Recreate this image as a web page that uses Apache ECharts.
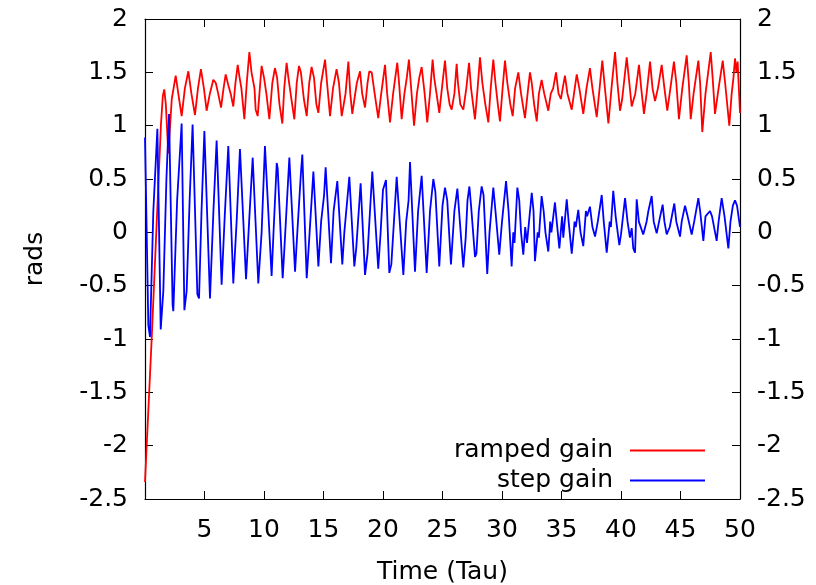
<!DOCTYPE html>
<html>
<head>
<meta charset="utf-8">
<script src="https://cdn.jsdelivr.net/npm/echarts@6/dist/echarts.min.js"></script>
<style>
  html, body { margin: 0; padding: 0; background: #fff; }
  #chart { width: 816px; height: 585px; }
</style>
</head>
<body>
<div id="chart"></div>
<script>
// Angle response (rads) over time (Tau) for two gain schedules.
var rampTime = [
  0, 0.56, 1.34, 1.5, 1.62, 1.75, 1.96, 2.25, 2.58, 2.8, 3.08, 3.35, 3.64, 3.9, 4.2, 4.45, 4.7, 4.95,
  5.18, 5.45, 5.74, 5.95, 6.15, 6.39, 6.6, 6.78, 7.0, 7.2, 7.42, 7.6, 7.79, 7.95, 8.1, 8.35, 8.55, 8.77,
  8.95, 9.2, 9.3, 9.47, 9.65, 9.8, 10.0, 10.2, 10.45, 10.7, 10.92, 11.1, 11.3, 11.54, 11.7, 11.9, 12.05,
  12.3, 12.55, 12.75, 12.94, 13.1, 13.35, 13.59, 13.8, 14.0, 14.2, 14.4, 14.57, 14.8, 15.13, 15.3, 15.55,
  15.8, 16.1, 16.3, 16.53, 16.7, 16.85, 17.09, 17.25, 17.42, 17.6, 17.8, 18.07, 18.25, 18.49, 18.7, 18.85,
  19.05, 19.3, 19.6, 19.85, 20.17, 20.35, 20.59, 20.85, 21.2, 21.35, 21.57, 21.8, 22.0, 22.18, 22.4, 22.61,
  22.85, 23.05, 23.25, 23.5, 23.72, 23.95, 24.17, 24.3, 24.5, 24.73, 24.95, 25.21, 25.4, 25.6, 25.77, 26.0,
  26.19, 26.3, 26.5, 26.75, 27.0, 27.23, 27.4, 27.55, 27.73, 27.95, 28.15, 28.35, 28.6, 28.85, 29.05, 29.27,
  29.45, 29.65, 29.83, 30.05, 30.25, 30.45, 30.7, 30.9, 31.1, 31.37, 31.6, 31.93, 32.15, 32.35, 32.5, 32.7,
  32.92, 33.1, 33.33, 33.55, 33.89, 34.1, 34.3, 34.54, 34.75, 34.95, 35.1, 35.29, 35.5, 35.86, 36.05, 36.28,
  36.5, 36.83, 37.1, 37.39, 37.6, 37.96, 38.2, 38.43, 38.65, 38.94, 39.2, 39.5, 39.7, 39.92, 40.1, 40.48,
  40.7, 40.9, 41.2, 41.51, 41.7, 41.93, 42.15, 42.44, 42.65, 42.86, 43.1, 43.42, 43.65, 43.89, 44.15, 44.45,
  44.65, 44.87, 45.15, 45.52, 45.7, 45.86, 46.1, 46.5, 46.65, 46.83, 47.1, 47.54, 47.7, 47.9, 48.2, 48.55,
  48.75, 49.1, 49.3, 49.45, 49.58, 49.7, 49.8, 50.0
];
var rampAngle = [
  -2.34, -1.0, 1.01, 1.28, 1.34, 1.2, 0.74, 1.25, 1.47, 1.3, 1.09, 1.35, 1.51, 1.3, 1.1, 1.35, 1.53, 1.35,
  1.14, 1.3, 1.43, 1.4, 1.3, 1.17, 1.35, 1.48, 1.38, 1.3, 1.18, 1.4, 1.57, 1.45, 1.35, 1.06, 1.4, 1.69,
  1.5, 1.35, 1.15, 1.09, 1.35, 1.56, 1.45, 1.3, 1.06, 1.4, 1.54, 1.45, 1.2, 1.02, 1.35, 1.59, 1.45,
  1.25, 1.06, 1.4, 1.56, 1.5, 1.25, 1.09, 1.4, 1.55, 1.45, 1.2, 1.12, 1.4, 1.62, 1.4, 1.09,
  1.35, 1.53, 1.4, 1.09, 1.2, 1.3, 1.6, 1.3, 1.11, 1.25, 1.4, 1.51, 1.3, 1.17, 1.4, 1.51,
  1.5, 1.3, 1.07, 1.3, 1.57, 1.3, 1.03, 1.3, 1.59, 1.4, 1.06, 1.3, 1.45, 1.62, 1.3, 1.0,
  1.3, 1.45, 1.55, 1.3, 1.03, 1.3, 1.62, 1.45, 1.3, 1.12, 1.35, 1.61, 1.35, 1.2, 1.15, 1.3,
  1.58, 1.4, 1.2, 1.15, 1.35, 1.59, 1.35, 1.35, 1.06, 1.35, 1.64, 1.4, 1.2, 1.03, 1.35, 1.62,
  1.4, 1.2, 1.04, 1.35, 1.61, 1.4, 1.2, 1.09, 1.35, 1.5, 1.3, 1.07, 1.3, 1.5, 1.4, 1.2,
  1.04, 1.3, 1.43, 1.3, 1.14, 1.3, 1.35, 1.5, 1.3, 1.25, 1.35, 1.47, 1.3, 1.15, 1.3, 1.48,
  1.35, 1.11, 1.35, 1.54, 1.35, 1.08, 1.35, 1.61, 1.35, 1.02, 1.35, 1.69, 1.4, 1.14, 1.25, 1.64,
  1.4, 1.18, 1.3, 1.57, 1.35, 1.11, 1.3, 1.6, 1.35, 1.23, 1.35, 1.57, 1.35, 1.14, 1.35, 1.6,
  1.4, 1.06, 1.35, 1.66, 1.4, 1.06, 1.3, 1.61, 1.4, 0.94, 1.3, 1.69, 1.45, 1.11, 1.35, 1.61,
  1.4, 1.0, 1.3, 1.45, 1.63, 1.5, 1.6, 1.12
];

var stepTime = [
  0, 0.28, 0.42, 0.7, 1.04, 1.32, 1.54, 1.8, 2.02, 2.32, 2.38, 2.7, 3.08, 3.31, 3.5, 3.75, 4.0, 4.4, 4.54,
  4.75, 4.99, 5.46, 5.75, 6.02, 6.44, 6.7, 7.0, 7.42, 7.7, 7.98, 8.49, 8.75, 9.05, 9.52, 9.8, 10.08,
  10.64, 10.8, 11.07, 11.15, 11.57, 11.7, 11.78, 12.13, 12.61, 12.8, 13.1, 13.22, 13.59, 13.75, 13.85,
  14.15, 14.57, 14.8, 15.05, 15.18, 15.63, 15.85, 16.16, 16.58, 16.75, 17.17, 17.59, 17.75, 17.85, 18.12,
  18.49, 18.7, 19.1, 19.6, 19.8, 20.0, 20.25, 20.53, 20.7, 20.85, 21.15, 21.71, 21.95, 22.15, 22.27,
  22.69, 22.95, 23.25, 23.67, 23.95, 24.23, 24.4, 24.73, 25.0, 25.21, 25.4, 25.71, 26.0, 26.25, 26.75,
  26.95, 27.1, 27.26, 27.4, 27.73, 27.85, 28.05, 28.29, 28.45, 28.76, 28.95, 29.27, 29.45, 29.77, 30.0,
  30.34, 30.55, 30.81, 30.95, 31.05, 31.29, 31.45, 31.6, 31.79, 31.95, 32.1, 32.5, 32.65, 32.77, 33.0,
  33.1, 33.33, 33.5, 33.65, 33.89, 34.05, 34.15, 34.45, 34.6, 34.82, 35.05, 35.15, 35.44, 35.6, 35.86,
  36.1, 36.2, 36.41, 36.6, 36.83, 37.05, 37.15, 37.39, 37.6, 37.82, 38.05, 38.38, 38.55, 38.8, 39.05,
  39.15, 39.35, 39.55, 39.86, 40.0, 40.34, 40.55, 40.75, 40.9, 41.03, 41.18, 41.32, 41.5, 41.87, 42.15,
  42.3, 42.58, 42.75, 43.0, 43.2, 43.5, 43.65, 43.84, 44.1, 44.48, 44.65, 44.96, 45.1, 45.38, 45.6,
  45.94, 46.15, 46.5, 46.65, 46.92, 47.1, 47.48, 47.65, 48.04, 48.2, 48.46, 48.7, 49.02, 49.2, 49.4,
  49.58, 49.75, 50.0
];
var stepAngle = [
  0.89, -0.87, -0.98, 0.2, 0.97, -0.91, -0.55, 0.5, 1.11, -0.68, -0.74, 0.3, 1.02, -0.73, -0.55, 0.3, 1.01, -0.58, -0.62,
  0.2, 0.95, -0.62, 0.2, 0.86, -0.49, 0.15, 0.81, -0.48, 0.1, 0.78, -0.44, 0.1, 0.7, -0.48, 0.0, 0.81,
  -0.41, 0.0, 0.65, 0.6, -0.43, -0.18, -0.18, 0.7, -0.37, 0.0, 0.55, 0.73, -0.43, -0.15, -0.15,
  0.57, -0.32, 0.1, 0.35, 0.61, -0.29, 0.2, 0.48, -0.3, 0.0, 0.52, -0.32, -0.15, -0.15, 0.46,
  -0.4, -0.2, 0.57, -0.34, 0.0, 0.4, 0.49, -0.38, -0.3, -0.3, 0.52, -0.4, 0.1, 0.3, 0.66,
  -0.37, 0.2, 0.53, -0.38, 0.2, 0.5, 0.38, -0.32, 0.25, 0.42, 0.3, -0.3, 0.2, 0.41, -0.33,
  -0.05, 0.3, 0.43, 0.25, -0.23, -0.2, 0.2, 0.43, 0.35, -0.39, 0.0, 0.42, 0.2, -0.21, 0.1,
  0.48, 0.2, -0.32, 0.0, -0.1, 0.42, 0.3, 0.0, -0.21, 0.05, -0.1, 0.37, 0.2, -0.27, 0.0,
  -0.05, 0.34, 0.2, 0.0, -0.18, 0.1, 0.0, 0.28, 0.1, -0.15, 0.15, -0.05, 0.31, 0.1, -0.2,
  0.1, 0.05, 0.21, 0.0, -0.13, 0.2, 0.15, 0.24, 0.05, -0.04, 0.1, 0.35, 0.1, -0.19, 0.1,
  0.05, 0.39, 0.15, -0.12, -0.02, 0.32, 0.1, -0.05, 0.04, -0.15, -0.19, 0.31, 0.1, -0.02, 0.1,
  0.2, 0.34, 0.1, -0.01, 0.1, 0.26, 0.1, -0.02, 0.05, 0.27, 0.1, -0.04, 0.1, 0.25, 0.15,
  -0.02, 0.1, 0.32, 0.2, -0.08, 0.15, 0.2, 0.15, -0.08, 0.1, 0.32, 0.15, -0.15, 0.1, 0.25,
  0.3, 0.25, 0.05
];

var seriesNames = ['ramped gain', 'step gain'];
var seriesColors = ['#ff0000', '#0000ff'];

function pairs(t, v) {
  var out = [];
  for (var i = 0; i < t.length; i++) out.push([t[i], v[i]]);
  return out;
}

var FONT = '"DejaVu Sans", "Liberation Sans", sans-serif';
var FONT_SIZE = 25;
var chart = echarts.init(document.getElementById('chart'), null, { renderer: 'canvas' });

var tickStyle = { show: true, inside: true, length: 8, lineStyle: { color: '#000', width: 1 } };
var lineStyleAxis = { show: true, onZero: false, lineStyle: { color: '#000', width: 1.2 } };
var labelStyle = { color: '#000', fontSize: FONT_SIZE, fontFamily: FONT };

chart.setOption({
  animation: false,
  backgroundColor: '#fff',
  grid: { left: 145, right: 76, top: 19, bottom: 86, containLabel: false, outerBoundsMode: 'none' },
  legend: {
    data: seriesNames,
    orient: 'vertical',
    right: 106,
    bottom: 87,
    align: 'right',
    itemWidth: 75,
    itemHeight: 14,
    itemGap: 5,
    icon: 'path://M0,6 L75,6 L75,8 L0,8 Z',
    textStyle: { color: '#000', fontSize: FONT_SIZE, fontFamily: FONT, padding: [0, 12, 0, 0] }
  },
  xAxis: [{
    type: 'value', min: 0, max: 50, interval: 5, position: 'bottom',
    name: 'Time (Tau)', nameLocation: 'middle', nameGap: 61,
    nameTextStyle: { color: '#000', fontSize: FONT_SIZE, fontFamily: FONT },
    axisLine: lineStyleAxis, axisTick: tickStyle, splitLine: { show: false },
    axisLabel: Object.assign({ margin: 19, formatter: function (v) { return v === 0 ? '' : String(v); } }, labelStyle)
  }, {
    type: 'value', min: 0, max: 50, interval: 5, position: 'top',
    axisLine: lineStyleAxis, axisTick: tickStyle, splitLine: { show: false },
    axisLabel: { show: false }
  }],
  yAxis: [{
    type: 'value', min: -2.5, max: 2, interval: 0.5, position: 'left',
    name: 'rads', nameLocation: 'middle', nameGap: 97, nameRotate: 90,
    nameTextStyle: { color: '#000', fontSize: FONT_SIZE, fontFamily: FONT },
    axisLine: lineStyleAxis, axisTick: tickStyle, splitLine: { show: false },
    axisLabel: Object.assign({ margin: 17 }, labelStyle)
  }, {
    type: 'value', min: -2.5, max: 2, interval: 0.5, position: 'right',
    axisLine: lineStyleAxis, axisTick: tickStyle, splitLine: { show: false },
    axisLabel: Object.assign({ margin: 17 }, labelStyle)
  }],
  series: [{
    name: seriesNames[0], type: 'line', xAxisIndex: 0, yAxisIndex: 0,
    data: pairs(rampTime, rampAngle), showSymbol: false, symbol: 'none',
    color: seriesColors[0], lineStyle: { color: seriesColors[0], width: 1.8 }
  }, {
    name: seriesNames[1], type: 'line', xAxisIndex: 0, yAxisIndex: 0,
    data: pairs(stepTime, stepAngle), showSymbol: false, symbol: 'none',
    color: seriesColors[1], lineStyle: { color: seriesColors[1], width: 1.8 }
  }]
});
</script>
</body>
</html>
